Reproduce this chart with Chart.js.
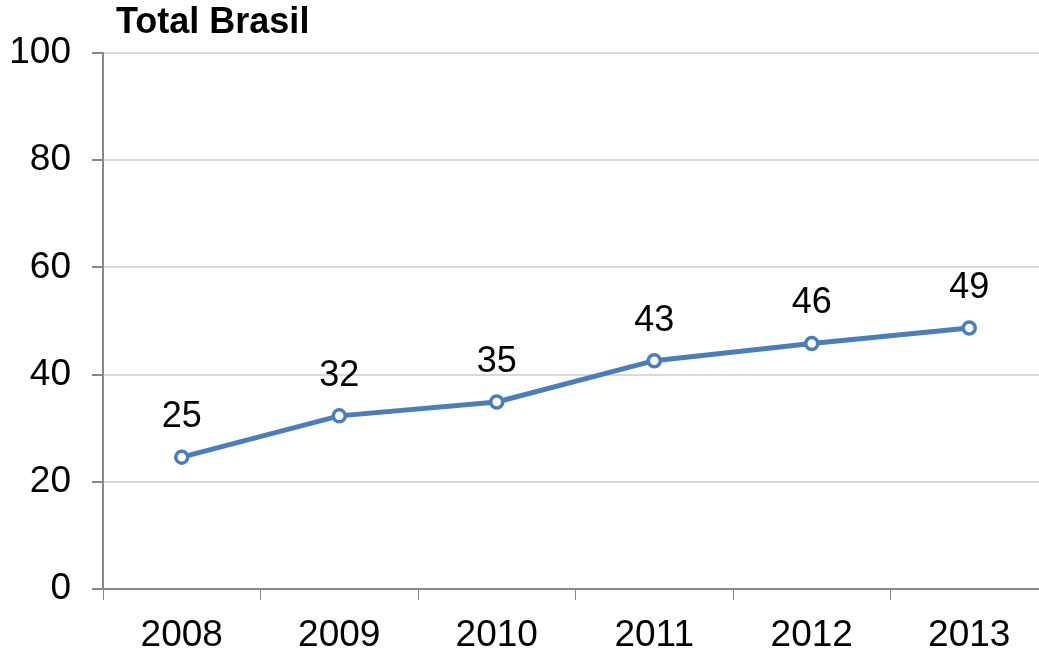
<!DOCTYPE html>
<html>
<head>
<meta charset="utf-8">
<script src="https://cdn.jsdelivr.net/npm/chart.js@4/dist/chart.umd.min.js"></script>
<style>
  html, body { margin: 0; padding: 0; overflow: hidden; background: #fff; }
  #wrap { width: 1039px; height: 653px; overflow: hidden; }
</style>
</head>
<body>
<div id="wrap"><canvas id="myChart" width="1060" height="653"></canvas></div>
<script>
var title = "Total Brasil"
var years = ["2008", "2009", "2010", "2011", "2012", "2013"]
var values = [24.6, 32.3, 34.9, 42.6, 45.8, 48.7]
var valueLabels = ["25", "32", "35", "43", "46", "49"]
var yTicks = [0, 20, 40, 60, 80, 100]

var FONT = "'Liberation Sans', Arial, sans-serif"

// title + value labels drawn on top of the chart
var labelsPlugin = {
  id: 'labelsPlugin',
  afterDatasetsDraw: function(chart) {
    var ctx = chart.ctx
    ctx.save()
    ctx.fillStyle = '#000'
    ctx.font = 'bold 36px ' + FONT
    ctx.textAlign = 'left'
    ctx.textBaseline = 'middle'
    ctx.fillText(title, 116, 23)

    ctx.font = '36px ' + FONT
    ctx.textAlign = 'center'
    var meta = chart.getDatasetMeta(0)
    meta.data.forEach(function(pt, i) {
      ctx.fillText(valueLabels[i], pt.x, pt.y - 40)
    })
    ctx.restore()
  }
}

var myChart = document.getElementById("myChart").getContext('2d')

var chart = new Chart(myChart, {
  type: 'line',
  data: {
    labels: years,
    datasets: [{
      label: title,
      data: values,
      borderColor: '#4A7EBB',
      borderWidth: 5,
      backgroundColor: '#ffffff',
      pointBackgroundColor: '#ffffff',
      pointBorderColor: '#4A7EBB',
      pointBorderWidth: 3.5,
      pointRadius: 6,
      tension: 0
    }]
  },
  options: {
    responsive: false,
    animation: false,
    layout: { padding: { top: 53, right: 12, left: 0, bottom: 0 } },
    plugins: {
      legend: { display: false },
      tooltip: { enabled: false }
    },
    scales: {
      x: {
        offset: true,
        grid: { display: true, drawOnChartArea: false, tickLength: 11, tickColor: '#888888', offset: true },
        border: { color: '#888888', width: 2 },
        ticks: { color: '#000', font: { family: FONT, size: 37 }, padding: 14, maxRotation: 0 },
        afterFit: function(scale) { scale.height = 64 }
      },
      y: {
        min: 0,
        max: 100,
        afterBuildTicks: function(scale) {
          scale.ticks = yTicks.map(function(v) { return { value: v } })
        },
        grid: { color: '#d9d9d9', lineWidth: 2, tickLength: 11, tickColor: '#888888' },
        border: { color: '#888888', width: 2 },
        ticks: { color: '#000', font: { family: FONT, size: 37 }, padding: 21 },
        afterFit: function(scale) { scale.width = 103 }
      }
    }
  },
  plugins: [labelsPlugin]
})
</script>
</body>
</html>
